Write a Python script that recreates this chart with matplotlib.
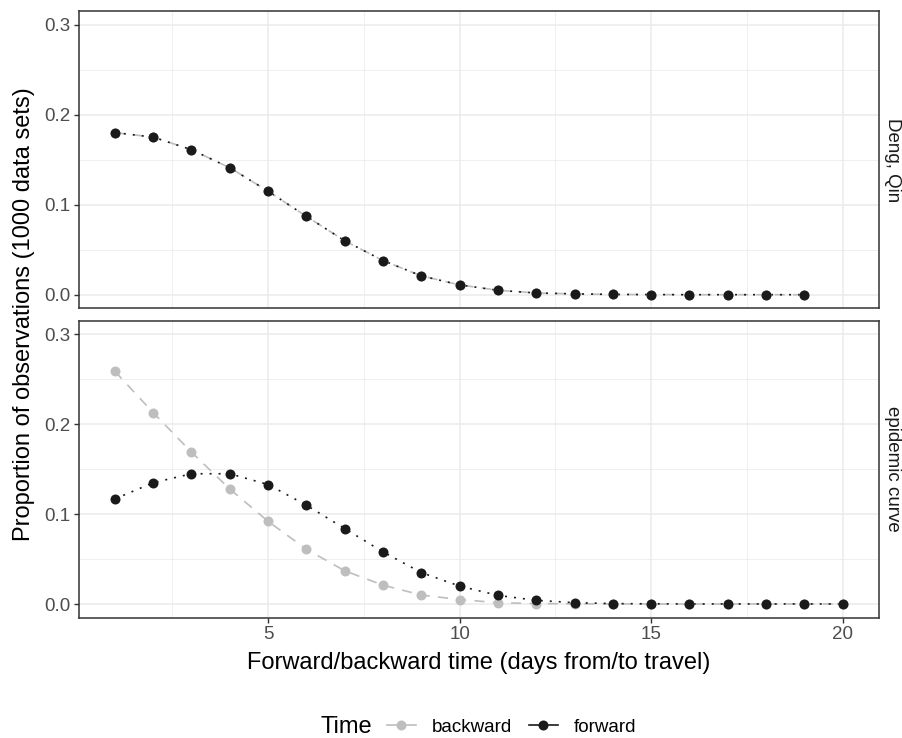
import matplotlib
matplotlib.use("Agg")
import matplotlib.pyplot as plt
from matplotlib.lines import Line2D
from matplotlib.ticker import MultipleLocator

plt.rcParams["font.family"] = ["Liberation Sans", "DejaVu Sans"]

# proportions per day, one panel per source
days_deng = list(range(1, 20))
deng_forward = [0.180, 0.175, 0.161, 0.141, 0.115, 0.087, 0.060, 0.038, 0.021, 0.011,
                0.005, 0.002, 0.001, 0.0004, 0.0002, 0.0001, 0.0001, 0.0001, 0.0001]
deng_backward = deng_forward

days_epi = list(range(1, 21))
epi_backward = [0.259, 0.213, 0.169, 0.128, 0.092, 0.061, 0.037, 0.021, 0.010, 0.005,
                0.0015, 0.0005, 0.0002, 0.0001, 0.0, 0.0, 0.0, 0.0, 0.0, 0.0]
epi_forward = [0.117, 0.135, 0.145, 0.145, 0.133, 0.110, 0.084, 0.058, 0.035, 0.020,
               0.0096, 0.0041, 0.0015, 0.0005, 0.0002, 0.0001, 0.0001, 0.0001, 0.0001, 0.0001]

panels = [
    ("Deng, Qin", days_deng, deng_backward, deng_forward),
    ("epidemic curve", days_epi, epi_backward, epi_forward),
]

GREY = "#BEBEBE"
BLACK = "#1A1A1A"
GRID = "#EBEBEB"
BORDER = "#333333"
TICKTXT = "#4D4D4D"

fig = plt.figure(figsize=(9.02, 7.38), dpi=100)
W, H = 902, 738
left, right = 78.5 / W, 879 / W
boxes = [(11, 308.3), (321, 617.5)]

for i, ((label, days, back, fwd), (top, bot)) in enumerate(zip(panels, boxes)):
    ax = fig.add_axes([left, 1 - bot / H, right - left, (bot - top) / H])

    # lines first, then points, like geom_line + geom_point
    ax.plot(days, back, color=GREY, lw=1.2, dashes=(6, 5), zorder=2)
    ax.plot(days, fwd, color=BLACK, lw=1.2, dashes=(1.2, 4.2), zorder=3)
    ax.plot(days, back, "o", color=GREY, ms=7.2, mec="none", zorder=4)
    ax.plot(days, fwd, "o", color=BLACK, ms=7.2, mec="none", zorder=5)

    ax.set_xlim(0.05, 20.95)
    ax.set_ylim(-0.015, 0.315)
    ax.xaxis.set_major_locator(MultipleLocator(5))
    ax.xaxis.set_minor_locator(MultipleLocator(2.5))
    ax.yaxis.set_minor_locator(MultipleLocator(0.05))
    ax.set_yticks([0.0, 0.1, 0.2, 0.3])
    ax.set_yticklabels(["0.0", "0.1", "0.2", "0.3"])
    ax.grid(which="major", color=GRID, lw=1.1, zorder=0)
    ax.grid(which="minor", color=GRID, lw=0.55, zorder=0)
    ax.set_axisbelow(True)
    ax.tick_params(which="major", length=3.6, width=1.0, color=BORDER,
                   labelcolor=TICKTXT, labelsize=13.5, pad=2.5)
    ax.tick_params(which="minor", length=0)
    for s in ax.spines.values():
        s.set_color(BORDER)
        s.set_linewidth(1.1)
    if i == 0:
        ax.tick_params(axis="x", which="both", length=0, labelbottom=False)

    # facet strip on the right
    fig.text(893 / W, 1 - (top + bot) / 2 / H, label, rotation=-90,
             ha="center", va="center", fontsize=13.5, color="#1A1A1A")

fig.text(24 / W, 1 - 314 / H, "Proportion of observations (1000 data sets)",
         rotation=90, ha="center", va="center", fontsize=17, color="black")
fig.text((left + right) / 2, 1 - 663 / H, "Forward/backward time (days from/to travel)",
         ha="center", va="center", fontsize=17, color="black")

# legend at the bottom with the title on its left
fig.text(346 / W, 1 - 727 / H, "Time", ha="center", va="center", fontsize=17)
handles = [
    Line2D([], [], color=GREY, lw=1.2, marker="o", ms=7.2, mec="none"),
    Line2D([], [], color=BLACK, lw=1.2, marker="o", ms=7.2, mec="none"),
]
fig.legend(handles, ["backward", "forward"], loc="center",
           bbox_to_anchor=(511.5 / W, 1 - 727 / H), ncol=2, frameon=False,
           fontsize=13.5, handlelength=1.55, handletextpad=0.85, columnspacing=0.9)

fig.savefig("out.png", dpi=100)
